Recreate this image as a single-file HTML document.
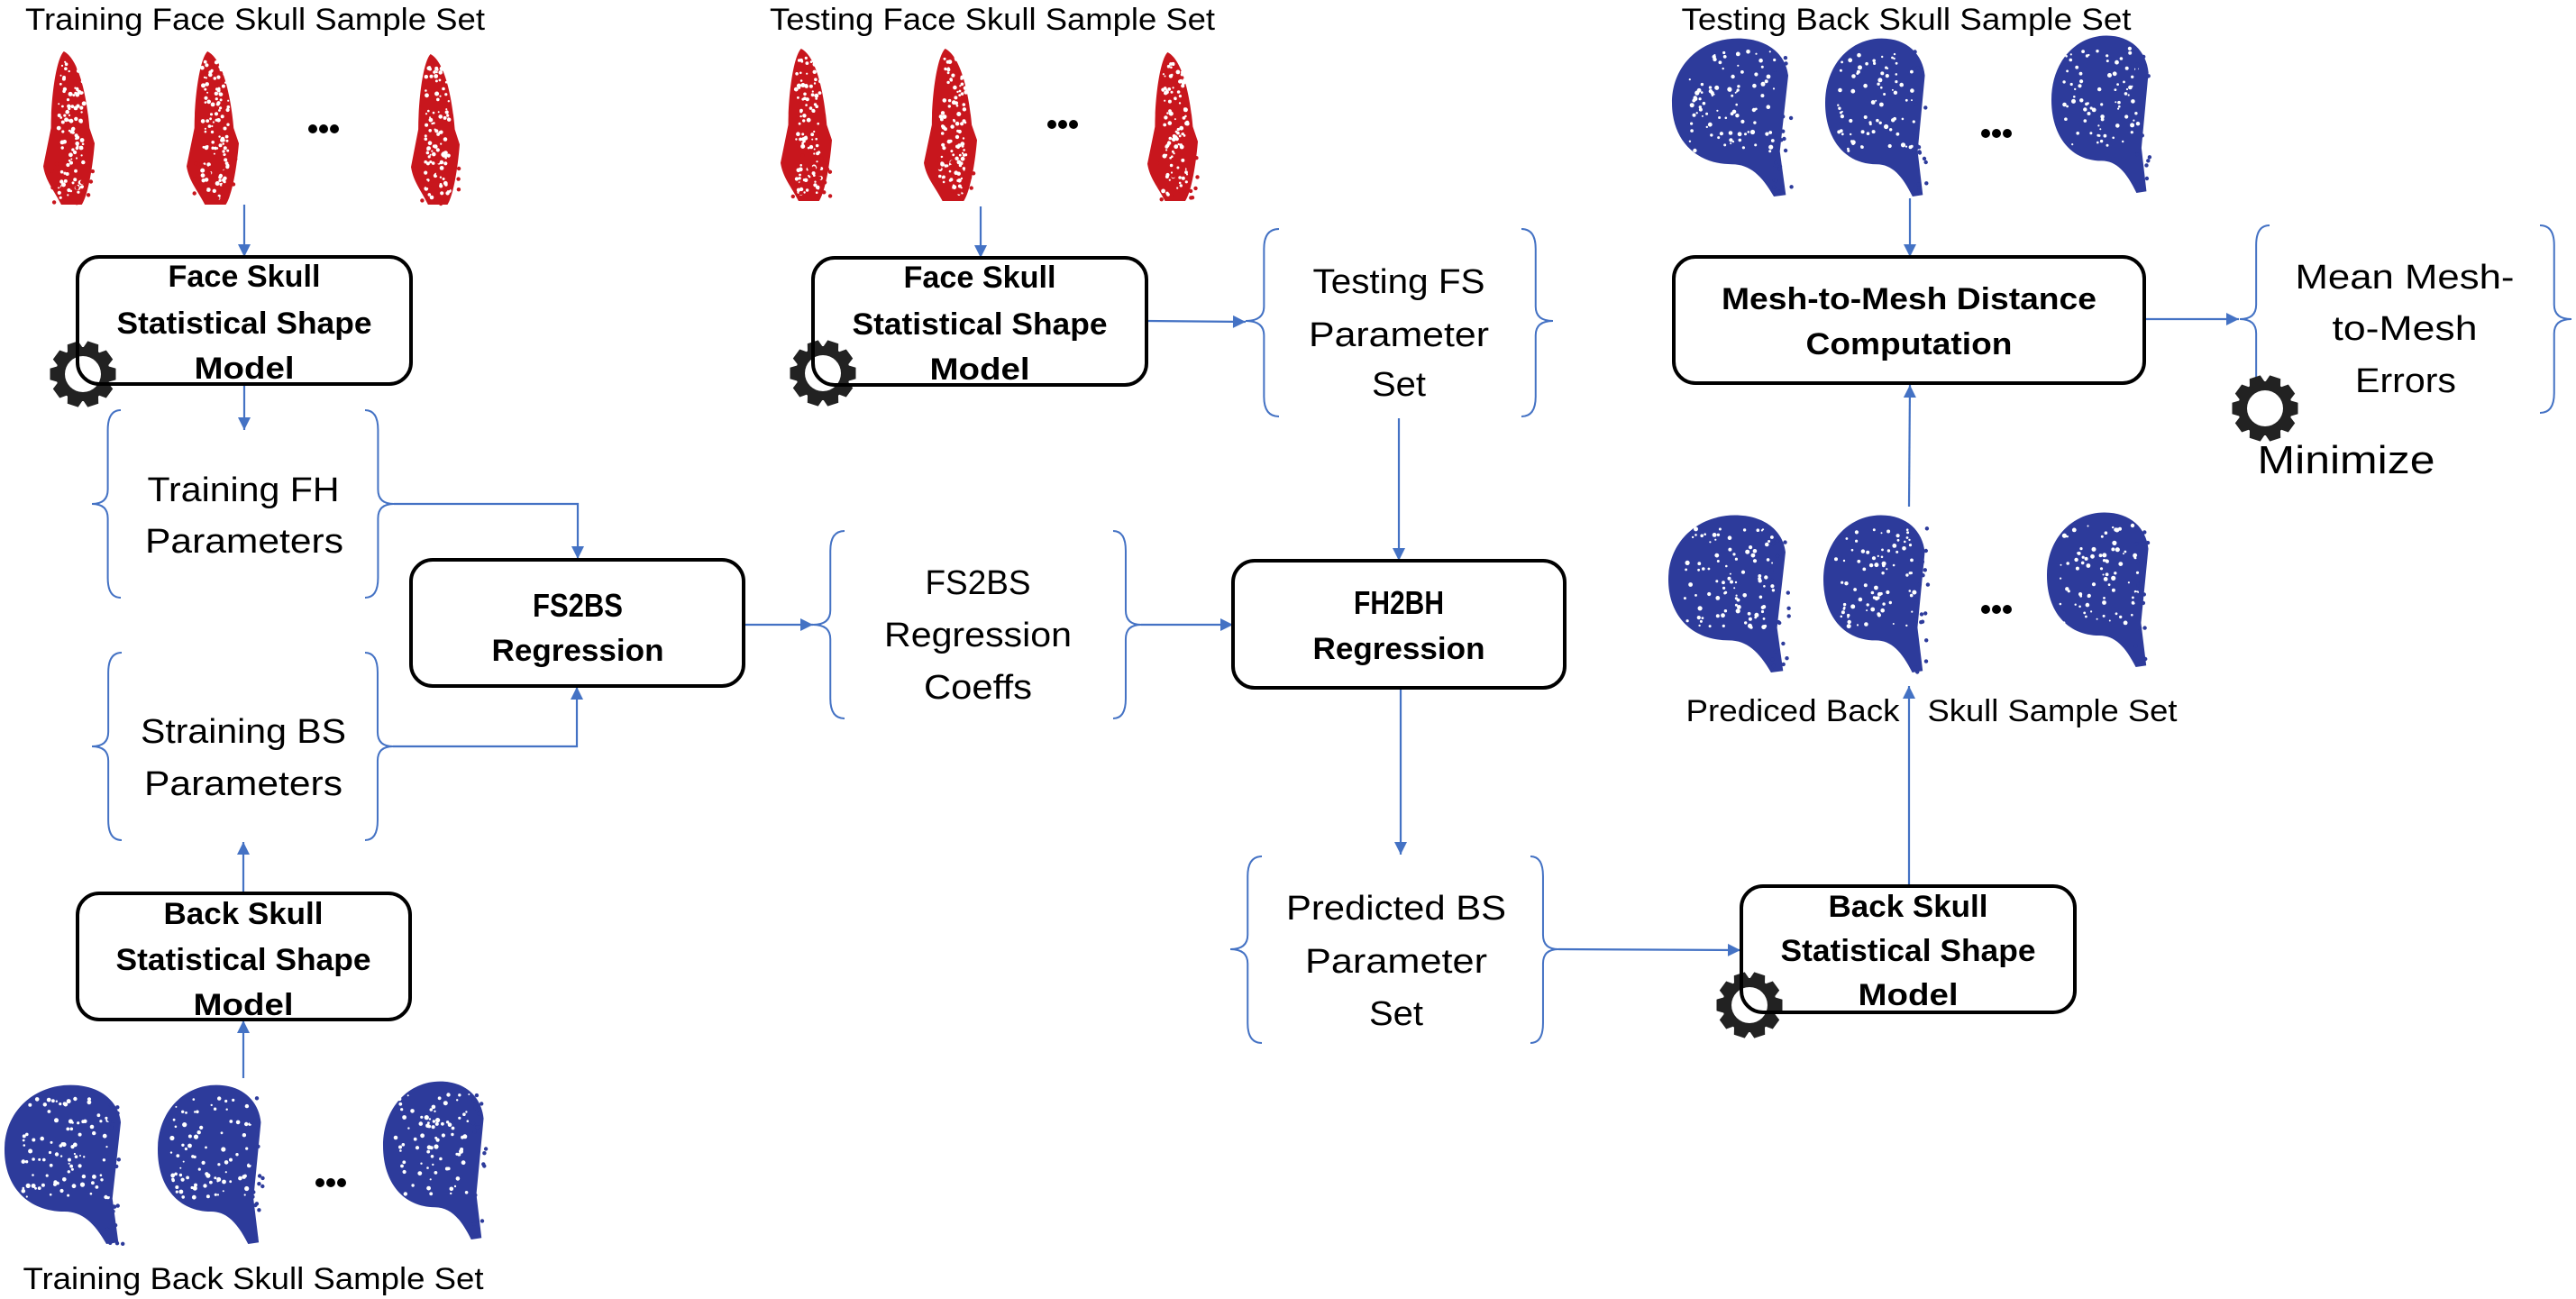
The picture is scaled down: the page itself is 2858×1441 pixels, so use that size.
<!DOCTYPE html>
<html><head><meta charset="utf-8">
<style>
html,body{margin:0;padding:0;background:#fff;}
svg{display:block;}
text{font-family:"Liberation Sans",sans-serif;fill:#000;}
.b{font-weight:bold;font-size:34px;}
.n{font-size:38px;}
.t{font-size:34px;}
.box{fill:#fff;stroke:#000;stroke-width:4;}
.ln{stroke:#4472C4;stroke-width:2.2;fill:none;}
.br{stroke:#4472C4;stroke-width:2;fill:none;}
</style></head>
<body>
<svg id="s" width="2858" height="1441" viewBox="0 0 2858 1441" xmlns="http://www.w3.org/2000/svg">
<defs>
<marker id="a" viewBox="0 0 10 10" refX="10" refY="5" markerWidth="15" markerHeight="14" markerUnits="userSpaceOnUse" orient="auto">
<path d="M0,0 L10,5 L0,10 Z" fill="#4472C4"/></marker>
</defs>

<g id="skulls"></g>

<!-- titles -->
<text class="t" x="283" y="33" text-anchor="middle" textLength="510" lengthAdjust="spacingAndGlyphs">Training Face Skull Sample Set</text>
<text class="t" x="1101" y="33" text-anchor="middle" textLength="494" lengthAdjust="spacingAndGlyphs">Testing Face Skull Sample Set</text>
<text class="t" x="2115" y="33" text-anchor="middle" textLength="499" lengthAdjust="spacingAndGlyphs">Testing Back Skull Sample Set</text>
<text class="t" x="281" y="1430" text-anchor="middle" textLength="511" lengthAdjust="spacingAndGlyphs">Training Back Skull Sample Set</text>
<text class="t" x="1989" y="800" text-anchor="middle" textLength="237" lengthAdjust="spacingAndGlyphs">Prediced Back</text>
<text class="t" x="2277" y="800" text-anchor="middle" textLength="277" lengthAdjust="spacingAndGlyphs">Skull Sample Set</text>

<!-- dots -->
<g fill="#000">
<circle cx="347" cy="143" r="5"/><circle cx="359" cy="143" r="5"/><circle cx="371" cy="143" r="5"/>
<circle cx="1167" cy="138" r="5"/><circle cx="1179" cy="138" r="5"/><circle cx="1191" cy="138" r="5"/>
<circle cx="2203" cy="148" r="5"/><circle cx="2215" cy="148" r="5"/><circle cx="2227" cy="148" r="5"/>
<circle cx="2203" cy="676" r="5"/><circle cx="2215" cy="676" r="5"/><circle cx="2227" cy="676" r="5"/>
<circle cx="355" cy="1312" r="5"/><circle cx="367" cy="1312" r="5"/><circle cx="379" cy="1312" r="5"/>
</g>

<!-- connectors -->
<line class="ln" x1="271" y1="227" x2="271" y2="285" marker-end="url(#a)"/>
<line class="ln" x1="271" y1="427" x2="271" y2="477" marker-end="url(#a)"/>
<polyline class="ln" points="437,559 641,559 641,620" marker-end="url(#a)"/>
<polyline class="ln" points="436,828 640,828 640,762" marker-end="url(#a)"/>
<line class="ln" x1="270" y1="991" x2="270" y2="934" marker-end="url(#a)"/>
<line class="ln" x1="270" y1="1196" x2="270" y2="1132" marker-end="url(#a)"/>
<line class="ln" x1="1088" y1="229" x2="1088" y2="286" marker-end="url(#a)"/>
<line class="ln" x1="1272" y1="356" x2="1382" y2="357" marker-end="url(#a)"/>
<line class="ln" x1="1552" y1="464" x2="1552" y2="622" marker-end="url(#a)"/>
<line class="ln" x1="825" y1="693" x2="902" y2="693" marker-end="url(#a)"/>
<line class="ln" x1="1266" y1="693" x2="1368" y2="693" marker-end="url(#a)"/>
<line class="ln" x1="1554" y1="763" x2="1554" y2="948" marker-end="url(#a)"/>
<line class="ln" x1="1729" y1="1053" x2="1931" y2="1054" marker-end="url(#a)"/>
<line class="ln" x1="2118" y1="983" x2="2118" y2="761" marker-end="url(#a)"/>
<line class="ln" x1="2118" y1="562" x2="2119" y2="427" marker-end="url(#a)"/>
<line class="ln" x1="2119" y1="220" x2="2119" y2="285" marker-end="url(#a)"/>
<line class="ln" x1="2379" y1="354" x2="2484" y2="354" marker-end="url(#a)"/>

<g id="braces"></g>
<g id="gears"></g>

<!-- boxes -->
<rect class="box" x="86" y="285" width="370" height="141" rx="24" fill-opacity="0"/>
<rect class="box" x="902" y="286" width="370" height="141" rx="24" fill-opacity="0"/>
<rect class="box" x="456" y="621" width="369" height="140" rx="24"/>
<rect class="box" x="1368" y="622" width="368" height="141" rx="24"/>
<rect class="box" x="86" y="991" width="369" height="140" rx="24"/>
<rect class="box" x="1932" y="983" width="370" height="140" rx="24" fill-opacity="0"/>
<rect class="box" x="1857" y="285" width="522" height="140" rx="24"/>

<!-- box text -->
<text class="b" x="271" y="318" text-anchor="middle" textLength="169" lengthAdjust="spacingAndGlyphs">Face Skull</text>
<text class="b" x="271" y="370" text-anchor="middle" textLength="283" lengthAdjust="spacingAndGlyphs">Statistical Shape</text>
<text class="b" x="271" y="420" text-anchor="middle" textLength="111" lengthAdjust="spacingAndGlyphs">Model</text>

<text class="b" x="1087" y="319" text-anchor="middle" textLength="169" lengthAdjust="spacingAndGlyphs">Face Skull</text>
<text class="b" x="1087" y="371" text-anchor="middle" textLength="283" lengthAdjust="spacingAndGlyphs">Statistical Shape</text>
<text class="b" x="1087" y="421" text-anchor="middle" textLength="111" lengthAdjust="spacingAndGlyphs">Model</text>

<text class="b" x="641" y="684" text-anchor="middle" style="font-size:36px" textLength="100" lengthAdjust="spacingAndGlyphs">FS2BS</text>
<text class="b" x="641" y="733" text-anchor="middle" textLength="191" lengthAdjust="spacingAndGlyphs">Regression</text>

<text class="b" x="1552" y="681" text-anchor="middle" style="font-size:36px" textLength="100" lengthAdjust="spacingAndGlyphs">FH2BH</text>
<text class="b" x="1552" y="731" text-anchor="middle" textLength="191" lengthAdjust="spacingAndGlyphs">Regression</text>

<text class="b" x="270" y="1025" text-anchor="middle" textLength="177" lengthAdjust="spacingAndGlyphs">Back Skull</text>
<text class="b" x="270" y="1076" text-anchor="middle" textLength="283" lengthAdjust="spacingAndGlyphs">Statistical Shape</text>
<text class="b" x="270" y="1126" text-anchor="middle" textLength="111" lengthAdjust="spacingAndGlyphs">Model</text>

<text class="b" x="2117" y="1017" text-anchor="middle" textLength="177" lengthAdjust="spacingAndGlyphs">Back Skull</text>
<text class="b" x="2117" y="1066" text-anchor="middle" textLength="283" lengthAdjust="spacingAndGlyphs">Statistical Shape</text>
<text class="b" x="2117" y="1115" text-anchor="middle" textLength="111" lengthAdjust="spacingAndGlyphs">Model</text>

<text class="b" x="2118" y="343" text-anchor="middle" textLength="416" lengthAdjust="spacingAndGlyphs">Mesh-to-Mesh Distance</text>
<text class="b" x="2118" y="393" text-anchor="middle" textLength="229" lengthAdjust="spacingAndGlyphs">Computation</text>

<!-- brace text -->
<text class="n" x="270" y="556" text-anchor="middle" textLength="213" lengthAdjust="spacingAndGlyphs">Training FH</text>
<text class="n" x="271" y="613" text-anchor="middle" textLength="220" lengthAdjust="spacingAndGlyphs">Parameters</text>
<text class="n" x="270" y="824" text-anchor="middle" textLength="228" lengthAdjust="spacingAndGlyphs">Straining BS</text>
<text class="n" x="270" y="882" text-anchor="middle" textLength="220" lengthAdjust="spacingAndGlyphs">Parameters</text>
<text class="n" x="1552" y="325" text-anchor="middle" textLength="191" lengthAdjust="spacingAndGlyphs">Testing FS</text>
<text class="n" x="1552" y="384" text-anchor="middle" textLength="200" lengthAdjust="spacingAndGlyphs">Parameter</text>
<text class="n" x="1552" y="439" text-anchor="middle" textLength="60" lengthAdjust="spacingAndGlyphs">Set</text>
<text class="n" x="1085" y="659" text-anchor="middle" textLength="117" lengthAdjust="spacingAndGlyphs">FS2BS</text>
<text class="n" x="1085" y="717" text-anchor="middle" textLength="208" lengthAdjust="spacingAndGlyphs">Regression</text>
<text class="n" x="1085" y="775" text-anchor="middle" textLength="120" lengthAdjust="spacingAndGlyphs">Coeffs</text>
<text class="n" x="1549" y="1020" text-anchor="middle" textLength="244" lengthAdjust="spacingAndGlyphs">Predicted BS</text>
<text class="n" x="1549" y="1079" text-anchor="middle" textLength="202" lengthAdjust="spacingAndGlyphs">Parameter</text>
<text class="n" x="1549" y="1137" text-anchor="middle" textLength="60" lengthAdjust="spacingAndGlyphs">Set</text>
<text class="n" x="2668" y="320" text-anchor="middle" textLength="243" lengthAdjust="spacingAndGlyphs">Mean Mesh-</text>
<text class="n" x="2668" y="377" text-anchor="middle" textLength="161" lengthAdjust="spacingAndGlyphs">to-Mesh</text>
<text class="n" x="2669" y="435" text-anchor="middle" textLength="112" lengthAdjust="spacingAndGlyphs">Errors</text>
<text x="2603" y="525" text-anchor="middle" style="font-size:44px" textLength="197" lengthAdjust="spacingAndGlyphs">Minimize</text>
</svg>
<script>
(function(){
var NS="http://www.w3.org/2000/svg",s=document.getElementById('s');
function el(t,a,p){var e=document.createElementNS(NS,t);for(var k in a)e.setAttribute(k,a[k]);(p||s).appendChild(e);return e;}
function brace(xl,xr,top,bot,tip,left){
 var mid=tip,d,xm;
 if(left){
  xm=xl+(xr-xl)*0.55;
  d="M"+xr+","+top+" Q"+xm+","+top+" "+xm+","+(top+22)+" L"+xm+","+(mid-16)+" Q"+xm+","+mid+" "+xl+","+mid+" Q"+xm+","+mid+" "+xm+","+(mid+16)+" L"+xm+","+(bot-22)+" Q"+xm+","+bot+" "+xr+","+bot;
 } else {
  xm=xr-(xr-xl)*0.55;
  d="M"+xl+","+top+" Q"+xm+","+top+" "+xm+","+(top+22)+" L"+xm+","+(mid-16)+" Q"+xm+","+mid+" "+xr+","+mid+" Q"+xm+","+mid+" "+xm+","+(mid+16)+" L"+xm+","+(bot-22)+" Q"+xm+","+bot+" "+xl+","+bot;
 }
 el('path',{d:d,'class':'br'},document.getElementById('braces'));
}
brace(102,134,455,663,559,1);brace(405,437,455,663,559,0);
brace(102,135,724,932,828,1);brace(405,436,724,932,828,0);
brace(1382,1419,254,462,356,1);brace(1688,1723,254,462,356,0);
brace(902,937,589,797,693,1);brace(1235,1266,589,797,693,0);
brace(1365,1400,950,1157,1053,1);brace(1698,1729,950,1157,1053,0);
brace(2485,2518,250,458,354,1);brace(2818,2853,250,458,354,0);
function gear(cx,cy){
 var g=document.getElementById('gears'),n=10,R=37,r=30,d="";
 for(var i=0;i<n;i++){
  var a=i*2*Math.PI/n,w=0.17;
  var pts=[[a-w*1.7,r],[a-w,R],[a+w,R],[a+w*1.7,r]];
  pts.forEach(function(p,j){d+=(i==0&&j==0?"M":"L")+(cx+p[1]*Math.cos(p[0])).toFixed(1)+","+(cy+p[1]*Math.sin(p[0])).toFixed(1)+" ";});
 }
 d+="Z";
 el('path',{d:d,fill:'#222'},g);
 el('circle',{cx:cx,cy:cy,r:20,fill:'#fff'},g);
}
gear(92,415);gear(913,414);gear(1941,1115);gear(2513,453);
var sk=document.getElementById('skulls');
var seed=7;function rnd(){seed=(seed*16807)%2147483647;return seed/2147483647;}
var blue="M0.55,0.02 C0.8,0.02 0.95,0.12 0.97,0.25 L0.9,0.72 L0.95,0.99 L0.85,1 C0.75,0.87 0.65,0.8 0.5,0.8 C0.2,0.8 0,0.65 0,0.42 C0,0.18 0.25,0.02 0.55,0.02 Z";
var red="M0.4,0 C0.7,0.05 0.85,0.3 0.9,0.5 L1,0.6 C0.95,0.8 0.85,0.95 0.75,1 L0.35,1 C0.2,0.9 0.05,0.85 0,0.75 L0.15,0.5 C0.15,0.3 0.25,0.05 0.4,0 Z";
function skull(x1,y1,x2,y2,col,shape){
 var w=x2-x1,h=y2-y1,isRed=(shape==red);
 var g=el('g',{transform:'translate('+x1+','+y1+')'},sk);
 el('path',{d:shape,fill:col,transform:'scale('+w+','+h+')'},g);
 var n=isRed?Math.round(w*h/90):Math.round(w*h/260);
 for(var i=0;i<n;i++){
  var u,v;
  if(isRed){v=0.06+rnd()*0.9;u=0.3+rnd()*0.5;}else{u=0.12+rnd()*0.75;v=0.1+rnd()*0.62;}
  el('circle',{cx:(u*w).toFixed(1),cy:(v*h).toFixed(1),r:(isRed?1+rnd()*1.5:1+rnd()*1.6).toFixed(1),fill:'#fff'},g);
 }
 for(var i=0;i<20;i++){
  var u=0.85+rnd()*0.15,v=0.1+rnd()*0.9;
  if(isRed){u=0.1+rnd()*0.9;v=0.7+rnd()*0.3;}
  el('circle',{cx:(u*w).toFixed(1),cy:(v*h).toFixed(1),r:2.2,fill:col},g);
 }
}
var R="#c8161d",B="#2d3b9b";
skull(48,57,105,227,R,red);skull(207,57,265,227,R,red);skull(456,60,510,227,R,red);
skull(866,54,923,223,R,red);skull(1025,54,1084,223,R,red);skull(1273,58,1329,223,R,red);
skull(1855,39,1988,218,B,blue);skull(2025,39,2139,218,B,blue);skull(2276,36,2387,214,B,blue);
skull(1851,568,1985,746,B,blue);skull(2023,568,2139,746,B,blue);skull(2271,565,2387,740,B,blue);
skull(5,1200,138,1380,B,blue);skull(175,1200,293,1380,B,blue);skull(425,1196,540,1375,B,blue);
})();
</script>
</body></html>
